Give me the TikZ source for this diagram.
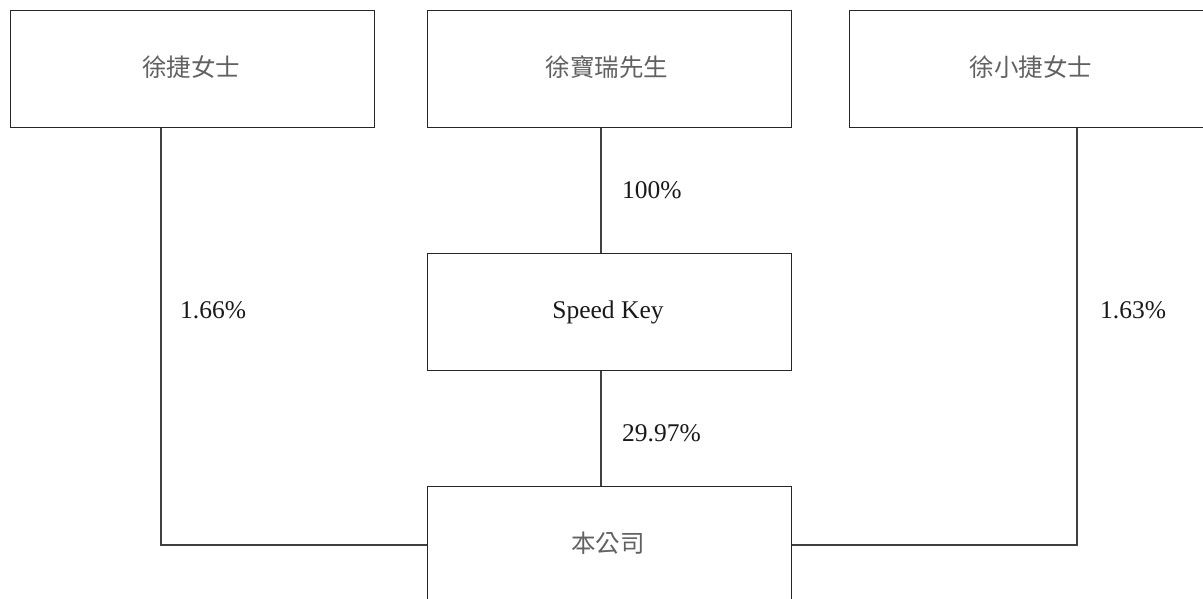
\documentclass[tikz,border=0pt]{standalone}
\usepackage{fontspec}
\setmainfont{Liberation Serif}
\newfontfamily\cjk{Noto Sans CJK TC}
\begin{document}
\begin{tikzpicture}[x=1pt,y=-1pt,
  box/.style={draw=black!85,line width=1.1pt,minimum width=364pt,minimum height=117pt,inner sep=0pt,anchor=north west},
  cn/.style={font=\cjk\fontsize{24.5}{26}\selectfont,text=black!62},
  en/.style={font=\fontsize{25.5}{28}\selectfont,text=black!90},
  conn/.style={draw=black!75,line width=1.1pt},
  lbl/.style={en,anchor=west,inner sep=0pt}]
\useasboundingbox (0,0) rectangle (1203,598);
\begin{scope}
\clip (0,0) rectangle (1203,598);
\node[box] (a) at (10,10) {};
\node[box] (b) at (427,10) {};
\node[box] (c) at (849,10) {};
\node[box] (s) at (427,253) {};
\node[box,minimum height=160pt] (d) at (427,486) {};
\end{scope}
\node[cn] (ta) at (191,67) {徐捷女士};
\node[cn] (tb) at (607,67) {徐寶瑞先生};
\node[cn] (tc) at (1031,67) {徐小捷女士};
\node[en] (ts) at (608,312) {Speed Key};
\node[cn] (td) at (608,543) {本公司};
\coordinate (ca) at (161,545);
\coordinate (cc) at (1077,545);
\draw[conn] (a.south -| ca) -- (ca) -- (d.west |- ca);
\draw[conn] (c.south -| cc) -- (cc) -- (d.east |- cc);
\draw[conn] (b.south -| 601,0) -- (s.north -| 601,0);
\draw[conn] (s.south -| 601,0) -- (d.north -| 601,0);
\node[lbl] (l1) at (180,310) {1.66\%};
\node[lbl] (l2) at (622,190) {100\%};
\node[lbl] (l3) at (622,433) {29.97\%};
\node[lbl] (l4) at (1100,310) {1.63\%};
\end{tikzpicture}
\end{document}
